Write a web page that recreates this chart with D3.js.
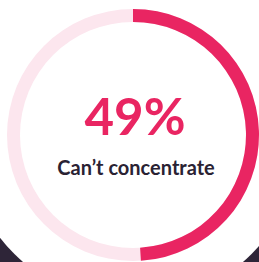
<!DOCTYPE html>
<html>
<head>
<meta charset="utf-8">
<script src="https://cdn.jsdelivr.net/npm/d3@7"></script>
<style>
  html, body { margin: 0; padding: 0; background: #ffffff; }
  svg { display: block; }
</style>
</head>
<body>
<div id="chart"></div>
<script>
// Data
const percent = [49];
const labels = ["Can’t concentrate"];

const width = 259;
const height = 262;
const cx = 133, cy = 135;
const outerR = 126, innerR = 113;

const svg = d3.select("#chart")
  .append("svg")
  .attr("width", width)
  .attr("height", height);

// white page, dark band peeking in at the bottom corners
svg.append("rect")
  .attr("width", width)
  .attr("height", height)
  .attr("fill", "#ffffff");

svg.append("rect")
  .attr("y", 200)
  .attr("width", width)
  .attr("height", height - 200)
  .attr("fill", "#2e2538");

svg.append("circle")
  .attr("cx", cx)
  .attr("cy", cy)
  .attr("r", 168)
  .attr("fill", "#ffffff");

const g = svg.append("g")
  .attr("transform", `translate(${cx},${cy})`);

// Scale percent -> angle
const angle = d3.scaleLinear().domain([0, 100]).range([0, 2 * Math.PI]);

const arc = d3.arc()
  .innerRadius(innerR)
  .outerRadius(outerR);

// background track
g.append("path")
  .attr("d", arc({ startAngle: 0, endAngle: angle(100) }))
  .attr("fill", "#fce6ee");

// value arc
g.selectAll(".value")
  .data(percent)
  .enter().append("path")
  .attr("class", "value")
  .attr("d", d => arc({ startAngle: 0, endAngle: angle(d) }))
  .attr("fill", "#e92562");

// Labels
g.append("text")
  .attr("x", 2)
  .attr("y", 0)
  .attr("text-anchor", "middle")
  .attr("font-family", "Lato, 'Open Sans', sans-serif")
  .attr("font-weight", 700)
  .attr("font-size", 51)
  .attr("fill", "#e92562")
  .text(percent[0] + "%");

g.append("text")
  .attr("x", 3)
  .attr("y", 40)
  .attr("text-anchor", "middle")
  .attr("font-family", "Lato, 'Open Sans', sans-serif")
  .attr("font-weight", 700)
  .attr("font-size", 20)
  .attr("fill", "#2a2233")
  .text(labels[0]);
</script>
</body>
</html>
